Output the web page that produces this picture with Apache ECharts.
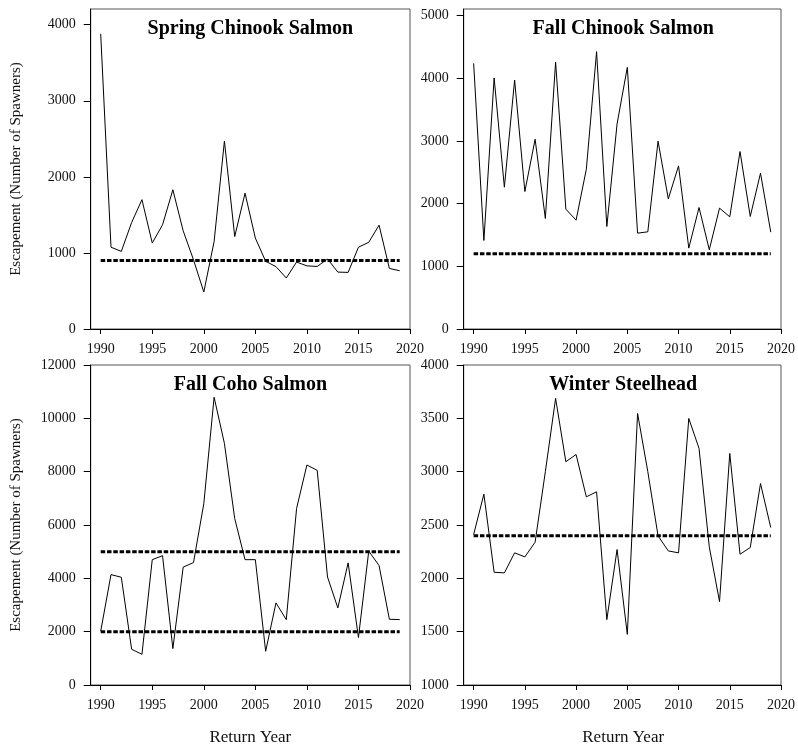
<!DOCTYPE html>
<html>
<head>
<meta charset="utf-8">
<script src="https://cdn.jsdelivr.net/npm/echarts@6/dist/echarts.min.js"></script>
<style>
html,body{margin:0;padding:0;background:#fff;}
#chart{width:798px;height:749px;}
</style>
</head>
<body>
<div id="chart"></div>
<script>
// ---- Data ----
const years = [1990,1991,1992,1993,1994,1995,1996,1997,1998,1999,2000,2001,2002,2003,2004,2005,2006,2007,2008,2009,2010,2011,2012,2013,2014,2015,2016,2017,2018,2019];
const xTickLabels = [1990,1995,2000,2005,2010,2015,2020];

const springChinook = [3880,1075,1020,1400,1700,1130,1370,1830,1290,910,486,1150,2470,1215,1785,1195,890,820,670,880,830,822,920,748,744,1075,1140,1365,796,766];
const fallChinook = [4240,1413,4006,2263,3974,2194,3028,1764,4261,1913,1737,2550,4426,1636,3273,4176,1530,1551,2997,2077,2603,1291,1939,1265,1929,1790,2832,1796,2487,1546];
const fallCoho = [2015,4140,4040,1340,1150,4700,4850,1365,4420,4590,6800,10790,9060,6240,4700,4700,1265,3080,2450,6620,8250,8050,4050,2890,4580,1780,5020,4480,2465,2453];
const winterSteelhead = [2410,2789,2057,2051,2239,2201,2339,3000,3687,3093,3161,2764,2811,1613,2270,1475,3546,3000,2398,2257,2239,3499,3218,2295,1782,3171,2226,2289,2889,2476];

const springGoals = [900];
const fallChinookGoals = [1200];
const cohoGoals = [5000, 2000];
const steelheadGoals = [2400];

const springTicks = [0,1000,2000,3000,4000];
const fallChinookTicks = [0,1000,2000,3000,4000,5000];
const cohoTicks = [0,2000,4000,6000,8000,10000,12000];
const steelheadTicks = [1000,1500,2000,2500,3000,3500,4000];

const panelTitles = ['Spring Chinook Salmon','Fall Chinook Salmon','Fall Coho Salmon','Winter Steelhead'];
const yTitle = 'Escapement (Number of Spawners)';
const xTitle = 'Return Year';

// ---- Layout ----
const FONT = '"Liberation Serif", "Times New Roman", serif';
const grids = [
  {left: 90.7, top: 9, width: 319.3, height: 320},
  {left: 463.7, top: 9, width: 319, height: 320},
  {left: 90.7, top: 365, width: 319.3, height: 320},
  {left: 463.7, top: 365, width: 319, height: 320}
];
const yRanges = [
  {min: 0, max: 4206, ticks: springTicks},
  {min: 0, max: 5107, ticks: fallChinookTicks},
  {min: 0, max: 12000, ticks: cohoTicks},
  {min: 1000, max: 4000, ticks: steelheadTicks}
];
const seriesData = [springChinook, fallChinook, fallCoho, winterSteelhead];
const goalData = [springGoals, fallChinookGoals, cohoGoals, steelheadGoals];

const option = {
  backgroundColor: '#fff',
  animation: false,
  grid: grids.map(g => Object.assign({show: true, borderColor: '#555', borderWidth: 1, backgroundColor: 'transparent'}, g)),
  xAxis: grids.map((g, i) => ({
    type: 'value', gridIndex: i, min: 1989.03, max: 2020,
    splitLine: {show: false},
    axisLine: {show: true, onZero: false, lineStyle: {color: '#000', width: 1}},
    axisTick: {show: true, length: 5, customValues: xTickLabels, lineStyle: {color: '#000'}},
    axisLabel: {show: true, margin: 13, customValues: xTickLabels, fontFamily: FONT, fontSize: 14, color: '#111', formatter: v => String(v)}
  })),
  yAxis: grids.map((g, i) => ({
    type: 'value', gridIndex: i, min: yRanges[i].min, max: yRanges[i].max,
    splitLine: {show: false},
    axisLine: {show: true, onZero: false, lineStyle: {color: '#000', width: 1}},
    axisTick: {show: true, length: 7, customValues: yRanges[i].ticks, lineStyle: {color: '#000'}},
    axisLabel: {show: true, margin: 15, customValues: yRanges[i].ticks, fontFamily: FONT, fontSize: 14, color: '#111', formatter: v => String(v)}
  })),
  series: [],
  graphic: []
};

seriesData.forEach((vals, i) => {
  option.series.push({
    type: 'line', xAxisIndex: i, yAxisIndex: i,
    data: years.map((y, k) => [y, vals[k]]),
    symbol: 'none', lineStyle: {color: '#000', width: 1}, z: 3
  });
  goalData[i].forEach(gv => {
    option.series.push({
      type: 'line', xAxisIndex: i, yAxisIndex: i,
      data: [[years[0], gv], [years[years.length - 1], gv]],
      symbol: 'none', lineStyle: {color: '#000', width: 3, type: [4.5, 1.8]}, z: 4
    });
  });
  const g = grids[i];
  option.graphic.push({
    type: 'text', x: g.left + g.width / 2, y: g.top + 20,
    style: {text: panelTitles[i], font: 'bold 20px ' + FONT, fill: '#000', align: 'center', verticalAlign: 'middle'}
  });
});

// y-axis titles (left panels only)
[0, 2].forEach(i => {
  const g = grids[i];
  option.graphic.push({
    type: 'text', x: 16, y: g.top + g.height / 2, rotation: Math.PI / 2,
    style: {text: yTitle, font: '15px ' + FONT, fill: '#111', align: 'center', verticalAlign: 'middle'}
  });
});
// x-axis titles (bottom panels only)
[2, 3].forEach(i => {
  const g = grids[i];
  option.graphic.push({
    type: 'text', x: g.left + g.width / 2, y: 738,
    style: {text: xTitle, font: '17px ' + FONT, fill: '#111', align: 'center', verticalAlign: 'middle'}
  });
});

const chart = echarts.init(document.getElementById('chart'), null, {renderer: 'canvas'});
chart.setOption(option);
</script>
</body>
</html>
